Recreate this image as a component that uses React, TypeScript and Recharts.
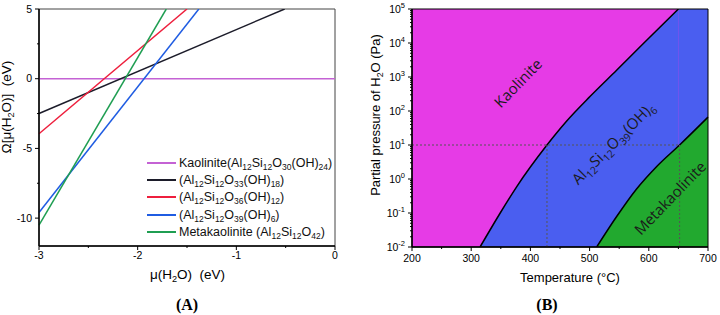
import React from 'react';
import {
  LineChart, Line, XAxis, YAxis, ReferenceArea,
  ComposedChart, Area, CartesianGrid, ReferenceLine,
} from 'recharts';

const FONT = '"Liberation Sans", Arial, sans-serif';

// ---- (A) grand potential vs. chemical potential of water ----
// rows where a line was read; null = not read there (lines are straight)
const mu = [-3, -1.71, -1.5, -1.38, -0.51, 0];
const omegaKaolinite = [0, null, null, null, null, 0];
const omegaOH18 = [-2.5, null, null, null, 5, null];
const omegaOH12 = [-3.95, null, 5, null, null, null];
const omegaOH6 = [-9.6, null, null, 5, null, null];
const omegaMeta = [-10.5, 5, null, null, null, null];

const seriesA = [
  { key: 'kao', label: 'Kaolinite(Al_{12}Si_{12}O_{30}(OH)_{24})', color: '#c462d4', values: omegaKaolinite },
  { key: 'oh18', label: '(Al_{12}Si_{12}O_{33}(OH)_{18})', color: '#1c1c2a', values: omegaOH18 },
  { key: 'oh12', label: '(Al_{12}Si_{12}O_{36}(OH)_{12})', color: '#ee1f3d', values: omegaOH12 },
  { key: 'oh6', label: '(Al_{12}Si_{12}O_{39}(OH)_{6})', color: '#1f5ce2', values: omegaOH6 },
  { key: 'meta', label: 'Metakaolinite (Al_{12}Si_{12}O_{42})', color: '#1f9e52', values: omegaMeta },
];

const muTicks = [-3, -2.5, -2, -1.5, -1, -0.5, 0];
const omegaTicks = [-10, -7.5, -5, -2.5, 0, 2.5, 5];

const dataA = mu.map((m, i) => {
  const row: Record<string, number | null> = { mu: m };
  seriesA.forEach((s) => { row[s.key] = s.values[i]; });
  return row;
});

// ---- (B) phase diagram, T vs. p(H2O) ----
const temperature = [315, 349, 377, 428, 461, 501, 512, 546, 579, 590, 613, 650, 652, 700];
const pKaoBoundary = [0.01, 0.1, 0.6, 10, 50, 270, null, 1600, null, 9300, null, 100000, null, null];
const pBlueTop = [null, null, null, null, null, null, null, null, null, null, null, 100000, null, 100000];
const pMetaBoundary = [null, null, null, null, null, null, 0.01, 0.08, 0.5, null, 2.3, null, 10, 66];

const guideP = 10;
const guideT = [428, 652];

const tempTicks = [200, 250, 300, 350, 400, 450, 500, 550, 600, 650, 700];
const decades = [0.01, 0.1, 1, 10, 100, 1000, 10000, 100000];
const minorSteps = [2, 3, 4, 5, 6, 7, 8, 9];
const pressureTicks = [
  ...decades,
  ...decades.slice(0, -1).flatMap((d) => minorSteps.map((k) => k * d)),
].sort((a, b) => a - b);

const dataB = temperature.map((t, i) => ({
  T: t,
  kao: pKaoBoundary[i],
  top: pBlueTop[i],
  meta: pMetaBoundary[i],
}));

const subStyle: React.CSSProperties = {
  fontSize: '0.68em', verticalAlign: 'baseline', position: 'relative', top: '0.35em',
};
const supStyle: React.CSSProperties = {
  fontSize: '0.68em', verticalAlign: 'baseline', position: 'relative', top: '-0.45em',
};

function Rich({ text }: { text: string }) {
  const parts = text.split(/(_\{[^}]*\})/);
  return (
    <>
      {parts.map((p, i) =>
        p.startsWith('_{')
          ? <span key={i} style={subStyle}>{p.slice(2, -1)}</span>
          : <span key={i}>{p}</span>
      )}
    </>
  );
}

function Abs({ x, y, rotate = 0, style, children }: any) {
  return (
    <div
      style={{
        position: 'absolute', left: x, top: y, whiteSpace: 'nowrap',
        transform: `translate(-50%, -50%) rotate(${rotate}deg)`,
        fontFamily: FONT, color: '#000', lineHeight: 1, ...style,
      }}
    >
      {children}
    </div>
  );
}

function MuTick({ x, y, payload }: any) {
  const major = Number.isInteger(payload.value);
  return (
    <g>
      <line x1={x} x2={x} y1={y} y2={y + (major ? 4 : 2)} stroke="#000" />
      {major && (
        <text x={x} y={y + 13} textAnchor="middle" fontSize={10.5} fontFamily={FONT} fill="#000">
          {payload.value}
        </text>
      )}
    </g>
  );
}

function OmegaTick({ x, y, payload }: any) {
  const major = Number.isInteger(payload.value);
  return (
    <g>
      <line x1={x - (major ? 4 : 2)} x2={x} y1={y} y2={y} stroke="#000" />
      {major && (
        <text x={x - 7} y={y + 3.5} textAnchor="end" fontSize={10.5} fontFamily={FONT} fill="#000">
          {payload.value}
        </text>
      )}
    </g>
  );
}

function TempTick({ x, y, payload }: any) {
  const major = payload.value % 100 === 0;
  return (
    <g>
      <line x1={x} x2={x} y1={y} y2={y + (major ? 4 : 2)} stroke="#000" />
      {major && (
        <text x={x} y={y + 15} textAnchor="middle" fontSize={10.5} fontFamily={FONT} fill="#000">
          {payload.value}
        </text>
      )}
    </g>
  );
}

function PressureTick({ x, y, payload }: any) {
  const major = decades.includes(payload.value);
  const exp = Math.round(Math.log10(payload.value));
  return (
    <g>
      <line x1={x - (major ? 4 : 2)} x2={x} y1={y} y2={y} stroke="#000" />
      {major && (
        <text x={x - 7} y={y + 3.5} textAnchor="end" fontSize={10.5} fontFamily={FONT} fill="#000">
          10<tspan dy={-4.5} fontSize={7.5}>{exp}</tspan>
        </text>
      )}
    </g>
  );
}

function PanelA() {
  return (
    <div style={{ position: 'absolute', left: 0, top: 0, width: 360, height: 315 }}>
      <LineChart width={360} height={315} data={dataA} margin={{ top: 9, right: 25, bottom: 39, left: 7 }}>
        <XAxis
          dataKey="mu" type="number" domain={[-3, 0]} ticks={muTicks} interval={0}
          tickSize={0} tickMargin={0} tickLine={false} tick={(p: any) => <MuTick {...p} />}
          axisLine={{ stroke: '#000', strokeWidth: 1.5 }} height={30}
        />
        <YAxis
          type="number" domain={[-12, 5]} ticks={omegaTicks} interval={0} allowDataOverflow
          tickSize={0} tickMargin={0} tickLine={false} tick={(p: any) => <OmegaTick {...p} />}
          axisLine={{ stroke: '#000', strokeWidth: 1.5 }} width={32}
        />
        <ReferenceArea x1={-3} x2={0} y1={-12} y2={5} fill="none" fillOpacity={0} stroke="#444" strokeWidth={1} />
        {seriesA.map((s) => (
          <Line
            key={s.key} dataKey={s.key} type="linear" stroke={s.color} strokeWidth={1.5}
            dot={false} connectNulls isAnimationActive={false}
          />
        ))}
      </LineChart>
      <div style={{ position: 'absolute', left: 147, top: 154, fontFamily: FONT, fontSize: 12.5, color: '#111' }}>
        {seriesA.map((s) => (
          <div key={s.key} style={{ display: 'flex', alignItems: 'center', height: 17.4, whiteSpace: 'nowrap' }}>
            <div style={{ width: 29, borderTop: `2px solid ${s.color}`, marginRight: 3 }} />
            <span><Rich text={s.label} /></span>
          </div>
        ))}
      </div>
      <Abs x={7} y={107} rotate={-90} style={{ fontSize: 13.5 }}>
        Ω[μ(H<span style={subStyle}>2</span>O)]&nbsp;&nbsp;(eV)
      </Abs>
      <Abs x={187.5} y={275} style={{ fontSize: 13.5 }}>
        μ(H<span style={subStyle}>2</span>O)&nbsp;&nbsp;(eV)
      </Abs>
      <Abs x={187} y={305} style={{ fontFamily: '"Liberation Serif", "Times New Roman", serif', fontWeight: 'bold', fontSize: 16 }}>
        (A)
      </Abs>
    </div>
  );
}

function PanelB() {
  return (
    <div style={{ position: 'absolute', left: 360, top: 0, width: 360, height: 315 }}>
      <ComposedChart width={360} height={315} data={dataB} margin={{ top: 9, right: 12, bottom: 38, left: 12 }}>
        <CartesianGrid horizontal={false} vertical={false} fill="#e63be6" fillOpacity={1} />
        <XAxis
          dataKey="T" type="number" domain={[200, 700]} ticks={tempTicks} interval={0}
          tickSize={0} tickMargin={0} tickLine={false} tick={(p: any) => <TempTick {...p} />}
          axisLine={{ stroke: '#000', strokeWidth: 1.5 }} height={30}
        />
        <YAxis
          type="number" scale="log" domain={[0.01, 100000]} ticks={pressureTicks} interval={0} allowDataOverflow
          tickSize={0} tickMargin={0} tickLine={false} tick={(p: any) => <PressureTick {...p} />}
          axisLine={{ stroke: '#000', strokeWidth: 1.5 }} width={40}
        />
        <Area
          dataKey="top" type="linear" baseValue={0.01} fill="#4a5ef0" fillOpacity={1}
          stroke="none" connectNulls isAnimationActive={false}
        />
        <Area
          dataKey="kao" type="monotone" baseValue={0.01} fill="#4a5ef0" fillOpacity={1}
          stroke="#000" strokeWidth={1.5} connectNulls isAnimationActive={false}
        />
        <Area
          dataKey="meta" type="monotone" baseValue={0.01} fill="#22a92f" fillOpacity={1}
          stroke="#000" strokeWidth={1.5} connectNulls isAnimationActive={false}
        />
        <ReferenceLine
          segment={[{ x: 200, y: guideP }, { x: guideT[1], y: guideP }]}
          stroke="#555" strokeDasharray="2 2" strokeWidth={1}
        />
        {guideT.map((t) => (
          <ReferenceLine
            key={t} segment={[{ x: t, y: 0.01 }, { x: t, y: guideP }]}
            stroke="#555" strokeDasharray="2 2" strokeWidth={1}
          />
        ))}
        <ReferenceArea x1={200} x2={700} y1={0.01} y2={100000} fill="none" fillOpacity={0} stroke="#000" strokeWidth={1} />
      </ComposedChart>
      <Abs x={158} y={83} rotate={-46} style={{ fontFamily: '"Open Sans", sans-serif', fontSize: 15, color: '#1a1a1a' }}>
        Kaolinite
      </Abs>
      <Abs x={253} y={143} rotate={-45} style={{ fontFamily: '"Open Sans", sans-serif', fontSize: 15, color: '#1a1a1a' }}>
        <Rich text="Al_{12}Si_{12}O_{39}(OH)_{6}" />
      </Abs>
      <Abs x={310} y={198} rotate={-46} style={{ fontFamily: '"Open Sans", sans-serif', fontSize: 15, color: '#1a1a1a' }}>
        Metakaolinite
      </Abs>
      <Abs x={15} y={115} rotate={-90} style={{ fontSize: 13 }}>
        Partial pressure of H<span style={subStyle}>2</span>O (Pa)
      </Abs>
      <Abs x={210} y={277} style={{ fontSize: 13 }}>
        Temperature (°C)
      </Abs>
      <Abs x={187} y={305} style={{ fontFamily: '"Liberation Serif", "Times New Roman", serif', fontWeight: 'bold', fontSize: 16 }}>
        (B)
      </Abs>
    </div>
  );
}

export default function App() {
  return (
    <div style={{ position: 'absolute', left: 0, top: 0, width: 720, height: 315, background: '#fff', overflow: 'hidden' }}>
      <PanelA />
      <PanelB />
    </div>
  );
}
